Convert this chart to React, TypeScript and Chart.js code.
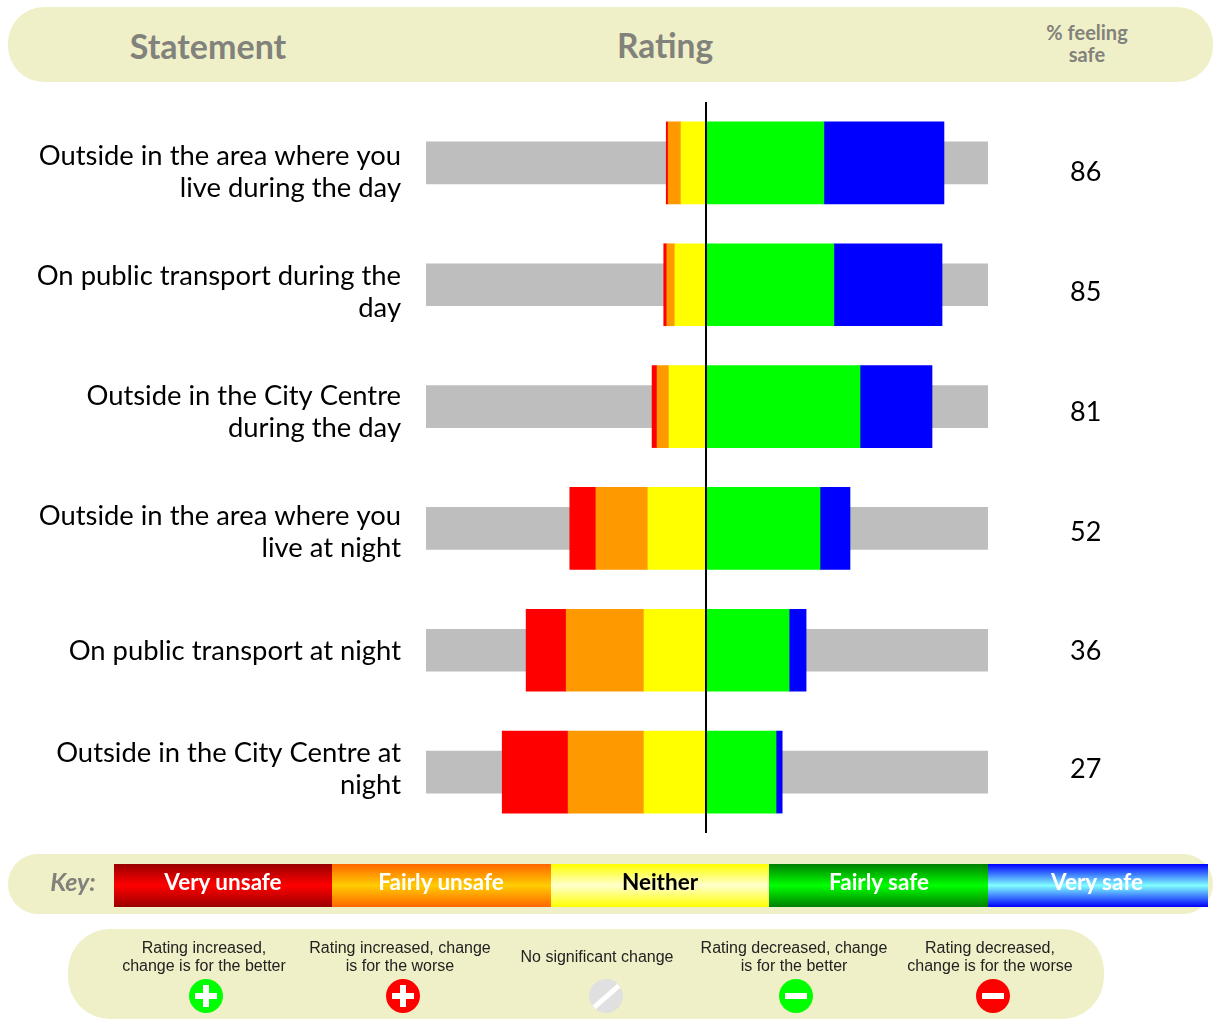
import React, { useEffect, useRef } from "react";
import { Chart, registerables } from "chart.js";

Chart.register(...registerables);

const statements: string[][] = [
  ["Outside in the area where you", "live during the day"],
  ["On public transport during the", "day"],
  ["Outside in the City Centre", "during the day"],
  ["Outside in the area where you", "live at night"],
  ["On public transport at night"],
  ["Outside in the City Centre at", "night"],
];
const feelingSafe = [86, 85, 81, 52, 36, 27];
const veryUnsafe = [0.7, 1.1, 1.8, 9.4, 14.4, 23.7];
const fairlyUnsafe = [4.6, 2.9, 4.3, 18.7, 28.0, 27.3];
const neither = [9.0, 11.2, 13.3, 20.9, 22.3, 22.3];
const fairlySafe = [42.4, 46.0, 55.4, 41.0, 29.9, 25.2];
const verySafe = [43.2, 38.9, 25.9, 10.8, 6.1, 2.2];
const rangeLeft = -100.72;
const rangeRight = 101.44;
const textRows = [0, 1.005, 2.01, 3.015, 4.012, 5.0];

const keyLabels = ["Very unsafe", "Fairly unsafe", "Neither", "Fairly safe", "Very safe"];
const changeLabels = [
  ["Rating increased,", "change is for the better"],
  ["Rating increased, change", "is for the worse"],
  ["No significant change"],
  ["Rating decreased, change", "is for the better"],
  ["Rating decreased,", "change is for the worse"],
];

const PILL = "#F0F0C8";
const HEAD = "#82827C";
const AVENIR = "Lato, 'Open Sans', sans-serif";

const keyStyle = [
  { left: 114, width: 218, cx: 223, edge: "#990000", mid: "#FF0000", color: "#fff" },
  { left: 332, width: 219, cx: 441, edge: "#FF6600", mid: "#FFCC00", color: "#fff" },
  { left: 551, width: 218, cx: 660, edge: "#FFFF00", mid: "#FFFFCC", color: "#000" },
  { left: 769, width: 219, cx: 879, edge: "#008000", mid: "#00FF00", color: "#fff" },
  { left: 988, width: 220, cx: 1097, edge: "#0000FF", mid: "#80FFFF", color: "#fff" },
];
const changeStyle = [
  { cx: 204, ix: 206, bg: "#00FF00", kind: "plus" },
  { cx: 400, ix: 403, bg: "#FF0000", kind: "plus" },
  { cx: 597, ix: 606, bg: "#E0E0E0", kind: "none" },
  { cx: 794, ix: 796, bg: "#00FF00", kind: "minus" },
  { cx: 990, ix: 993, bg: "#FF0000", kind: "minus" },
];

function abs(left: number, top: number, width: number, height: number, extra: React.CSSProperties = {}): React.CSSProperties {
  return { position: "absolute", left, top, width, height, ...extra };
}

function Label({ cx, cy, width, children, style }: any) {
  return (
    <div style={{ position: "absolute", left: cx - width / 2, top: cy, width, textAlign: "center", whiteSpace: "nowrap", transform: "translateY(-50%)", ...style }}>
      {children}
    </div>
  );
}

function Icon({ cx, bg, kind }: { cx: number; bg: string; kind: string }) {
  const white = "#fff";
  return (
    <div style={abs(cx - 17, 979, 34, 34, { borderRadius: "50%", background: bg, overflow: "hidden" })}>
      {kind !== "none" && <div style={abs(6, 14, 22, 6, { background: white })} />}
      {kind === "plus" && <div style={abs(14, 6, 6, 22, { background: white })} />}
      {kind === "none" && <div style={abs(14.5, 0.5, 5, 33, { background: white, transform: "rotate(49deg)" })} />}
    </div>
  );
}

export default function App() {
  const ref = useRef<HTMLCanvasElement | null>(null);

  useEffect(() => {
    if (!ref.current) return;
    const bar = (label: string, data: number[], color: string, stack: string, thickness: number, order: number) => ({
      label, data, backgroundColor: color, stack, barThickness: thickness, order, grouped: false, borderWidth: 0,
    });
    const neg = (a: number[]) => a.map((v) => -v);
    const ticksAt = (scale: any) => {
      scale.ticks = textRows.map((value) => ({ value }));
    };
    const rowAxis = { type: "linear", axis: "y", bounds: "data", offset: false, reverse: true, min: -0.586, max: 5.536, afterBuildTicks: ticksAt, grid: { display: false, drawTicks: false, offset: false }, border: { display: false } };
    const chart = new Chart(ref.current, {
      type: "bar",
      data: {
        labels: statements.map((s) => s.join(" ")),
        datasets: [
          bar("Neither", neg(neither), "#FFFF00", "rating", 82, 1),
          bar("Fairly unsafe", neg(fairlyUnsafe), "#FF9900", "rating", 82, 1),
          bar("Very unsafe", neg(veryUnsafe), "#FF0000", "rating", 82, 1),
          bar("Fairly safe", fairlySafe, "#00FF00", "rating", 82, 1),
          bar("Very safe", verySafe, "#0000FF", "rating", 82, 1),
          bar("Range left", statements.map(() => rangeLeft), "#BEBEBE", "range", 42, 2),
          bar("Range right", statements.map(() => rangeRight), "#BEBEBE", "range", 42, 2),
        ],
      } as any,
      options: {
        indexAxis: "y",
        animation: false,
        responsive: false,
        events: [],
        layout: { padding: { top: 102, bottom: 186, left: 0, right: 0 } },
        plugins: { legend: { display: false }, tooltip: { enabled: false } },
        scales: {
          y: { type: "category", stacked: true, display: false },
          x: {
            type: "linear",
            stacked: true,
            min: rangeLeft,
            max: rangeRight,
            afterBuildTicks: (scale: any) => { scale.ticks = [{ value: 0 }]; },
            afterFit: (scale: any) => { scale.height = 0; },
            ticks: { display: false },
            border: { display: false },
            grid: { color: "#000", lineWidth: 2, drawTicks: false, z: 1 },
          },
          statement: {
            ...rowAxis,
            position: "left",
            afterFit: (scale: any) => { scale.width = 426; },
            ticks: {
              padding: 25,
              autoSkip: false,
              color: "#000",
              font: { family: AVENIR, size: 27.4, lineHeight: 32 / 27.4 },
              callback: (_v: any, i: number) => statements[i],
            },
          },
          percent: {
            ...rowAxis,
            position: "right",
            afterFit: (scale: any) => { scale.width = 225; },
            ticks: {
              padding: 82,
              autoSkip: false,
              color: "#000",
              font: { family: AVENIR, size: 27 },
              callback: (_v: any, i: number) => String(feelingSafe[i]),
            },
          },
        },
      } as any,
    });
    return () => chart.destroy();
  }, []);

  return (
    <div style={abs(0, 0, 1213, 1019, { overflow: "hidden", background: "#fff" })}>
      <div style={abs(8, 7, 1205, 75, { background: PILL, borderRadius: 36 })} />
      <div style={abs(8, 854, 1205, 60, { background: PILL, borderRadius: 30 })} />
      <div style={abs(68, 929, 1036, 90, { background: PILL, borderRadius: 42 })} />

      <Label cx={208} cy={45} width={240} style={{ font: `700 34px ${AVENIR}`, color: HEAD }}>Statement</Label>
      <Label cx={665} cy={45} width={200} style={{ font: `700 33.5px ${AVENIR}`, color: HEAD }}>Rating</Label>
      <Label cx={1087} cy={32} width={160} style={{ font: `700 20px ${AVENIR}`, color: HEAD }}>% feeling</Label>
      <Label cx={1087} cy={54} width={160} style={{ font: `700 20px ${AVENIR}`, color: HEAD }}>safe</Label>

      <canvas ref={ref} width={1213} height={1019} style={{ position: "absolute", left: 0, top: 0, display: "block" }} />

      <Label cx={73} cy={881} width={90} style={{ font: `italic 700 25px ${AVENIR}`, color: HEAD }}>Key:</Label>
      {keyLabels.map((t, i) => {
        const k = keyStyle[i];
        return (
          <React.Fragment key={t}>
            <div style={abs(k.left, 864, k.width, 43, { background: `linear-gradient(${k.edge}, ${k.mid} 50%, ${k.edge})` })} />
            <Label cx={k.cx} cy={881} width={200} style={{ font: `700 22.5px ${AVENIR}`, color: k.color }}>{t}</Label>
          </React.Fragment>
        );
      })}

      {changeLabels.map((lines, i) => {
        const c = changeStyle[i];
        return (
          <React.Fragment key={i}>
            {lines.length === 1 ? (
              <Label cx={c.cx} cy={957} width={196} style={{ font: "16px 'Liberation Sans', Arial, sans-serif", color: "#222" }}>{lines[0]}</Label>
            ) : (
              lines.map((l, j) => (
                <Label key={j} cx={c.cx} cy={948 + j * 18} width={196} style={{ font: "16px 'Liberation Sans', Arial, sans-serif", color: "#222" }}>{l}</Label>
              ))
            )}
            <Icon cx={c.ix} bg={c.bg} kind={c.kind} />
          </React.Fragment>
        );
      })}
    </div>
  );
}
